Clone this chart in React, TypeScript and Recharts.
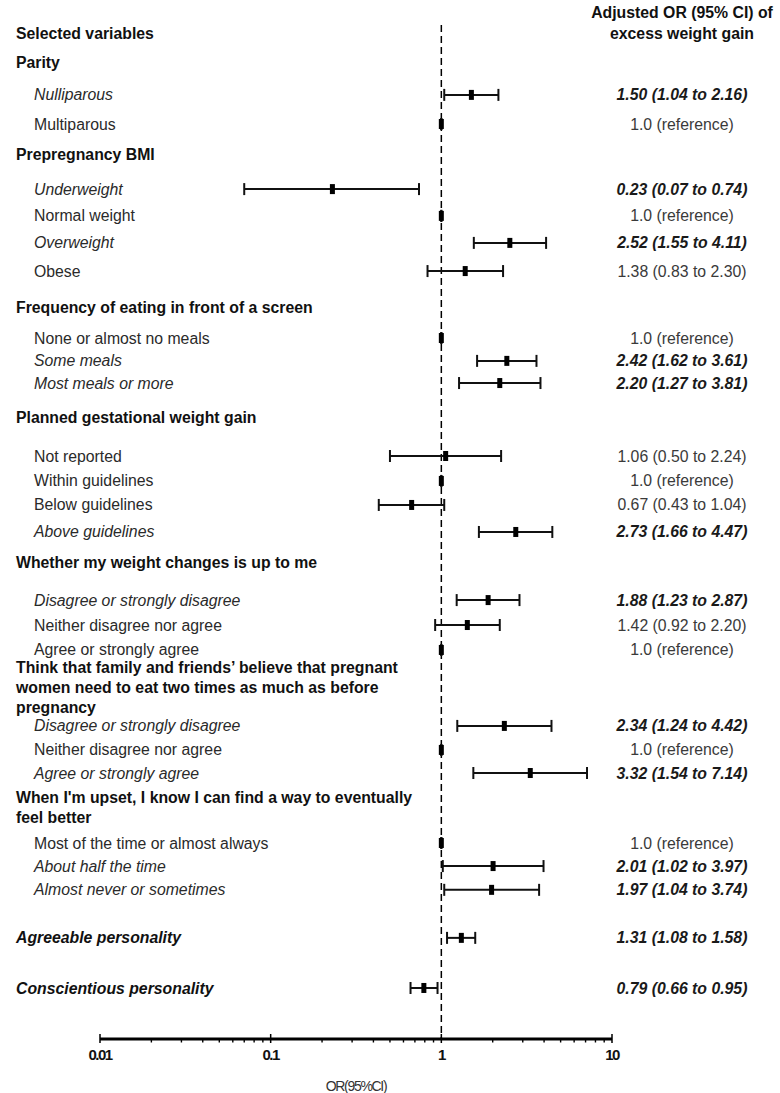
import React from "react";
import { ScatterChart, Scatter, XAxis, YAxis, ErrorBar, ReferenceLine } from "recharts";

// rows of the forest plot, top to bottom (row = position on the vertical scale)
const itemLabels = [
  "Nulliparous", "Multiparous",
  "Underweight", "Normal weight", "Overweight", "Obese",
  "None or almost no meals", "Some meals", "Most meals or more",
  "Not reported", "Within guidelines", "Below guidelines", "Above guidelines",
  "Disagree or strongly disagree", "Neither disagree nor agree", "Agree or strongly agree",
  "Disagree or strongly disagree", "Neither disagree nor agree", "Agree or strongly agree",
  "Most of the time or almost always", "About half the time", "Almost never or sometimes",
  "Agreeable personality", "Conscientious personality",
];
const oddsRatio = [1.5, 1.0, 0.23, 1.0, 2.52, 1.38, 1.0, 2.42, 2.2, 1.06, 1.0, 0.67, 2.73, 1.88, 1.42, 1.0, 2.34, 1.0, 3.32, 1.0, 2.01, 1.97, 1.31, 0.79];
const ciLow = [1.04, 1.0, 0.07, 1.0, 1.55, 0.83, 1.0, 1.62, 1.27, 0.5, 1.0, 0.43, 1.66, 1.23, 0.92, 1.0, 1.24, 1.0, 1.54, 1.0, 1.02, 1.04, 1.08, 0.66];
const ciHigh = [2.16, 1.0, 0.74, 1.0, 4.11, 2.3, 1.0, 3.61, 3.81, 2.24, 1.0, 1.04, 4.47, 2.87, 2.2, 1.0, 4.42, 1.0, 7.14, 1.0, 3.97, 3.74, 1.58, 0.95];
const isReference = [false, true, false, true, false, false, true, false, false, false, true, false, false, false, false, true, false, true, false, true, false, false, false, false];
const significant = [true, false, true, false, true, false, false, true, true, false, false, false, true, true, false, false, true, false, true, false, true, true, true, true];
const standalone = [false, false, false, false, false, false, false, false, false, false, false, false, false, false, false, false, false, false, false, false, false, false, true, true];
const itemRows = [4.11, 5.37, 8.19, 9.35, 10.52, 11.74, 14.64, 15.63, 16.59, 19.75, 20.83, 21.87, 23.04, 25.99, 27.07, 28.15, 31.44, 32.48, 33.48, 36.51, 37.51, 38.54, 40.62, 42.79];

const headerTitles = [
  ["Selected variables"],
  ["Parity"],
  ["Prepregnancy BMI"],
  ["Frequency of eating in front of a screen"],
  ["Planned gestational weight gain"],
  ["Whether my weight changes is up to me"],
  ["Think that family and friends\u2019 believe that pregnant", "women need to eat two times as much as before", "pregnancy"],
  ["When I'm upset, I know I can find a way to eventually", "feel better"],
];
const headerRows = [1.43, 2.69, 6.67, 13.3, 18.1, 24.34, 28.93, 34.52];

const columnTitle = ["Adjusted OR (95% CI) of", "excess weight gain"];
const xTickLabels = ["0.01", "0.1", "1", "10"];
const xTicks = [0.01, 0.02, 0.03, 0.04, 0.05, 0.06, 0.07, 0.08, 0.09, 0.1, 0.2, 0.3, 0.4, 0.5, 0.6, 0.7, 0.8, 0.9, 1, 2, 3, 4, 5, 6, 7, 8, 9, 10];

const FONT = "'Liberation Sans', Arial, sans-serif";
const NARROW = "'Liberation Sans Narrow', 'Liberation Sans', Arial, sans-serif";
const FS = 15.8;
const RIGHT_X = 682;

const data = itemLabels.map((label, i) => ({
  label,
  or: oddsRatio[i],
  row: itemRows[i],
  err: [oddsRatio[i] - ciLow[i], ciHigh[i] - oddsRatio[i]],
  text: isReference[i]
    ? "1.0 (reference)"
    : `${oddsRatio[i].toFixed(2)} (${ciLow[i].toFixed(2)} to ${ciHigh[i].toFixed(2)})`,
  sig: significant[i],
  top: standalone[i],
}));

// left labels and right-hand OR column, both hung on the row ticks
const RowTick = (props: any) => {
  const { y, payload } = props;
  const h = headerRows.indexOf(payload.value);
  if (h >= 0) {
    return (
      <g>
        <text x={16} y={y} fontFamily={FONT} fontSize={FS} fontWeight="bold" fill="#111">
          {headerTitles[h].map((line, k) => (
            <tspan key={k} x={16} dy={k === 0 ? "0.35em" : 20}>{line}</tspan>
          ))}
        </text>
        {h === 0 && (
          <text x={RIGHT_X} y={y - 21} textAnchor="middle" fontFamily={FONT} fontSize={FS} fontWeight="bold" fill="#111">
            {columnTitle.map((line, k) => (
              <tspan key={k} x={RIGHT_X} dy={k === 0 ? "0.35em" : 21}>{line}</tspan>
            ))}
          </text>
        )}
      </g>
    );
  }
  const d = data.find((r) => r.row === payload.value);
  if (!d) return null;
  return (
    <g>
      <text
        x={d.top ? 16 : 34}
        y={y}
        dy="0.35em"
        fontFamily={FONT}
        fontSize={FS}
        fontWeight={d.top ? "bold" : "normal"}
        fontStyle={d.sig ? "italic" : "normal"}
        fill={d.top ? "#111" : "#2a2a2a"}
      >
        {d.label}
      </text>
      <text
        x={RIGHT_X}
        y={y}
        dy="0.35em"
        textAnchor="middle"
        fontFamily={FONT}
        fontSize={FS}
        fontWeight={d.sig ? "bold" : "normal"}
        fontStyle={d.sig ? "italic" : "normal"}
        fill={d.sig ? "#1a1a1a" : "#3a3a3a"}
      >
        {d.text}
      </text>
    </g>
  );
};

const XTick = (props: any) => {
  const { x, y, payload } = props;
  const label = xTickLabels.find((t) => Number(t) === payload.value);
  return (
    <g>
      {label ? (
        <line x1={x} x2={x} y1={y - 5} y2={y + 4} stroke="#000" strokeWidth={1.5} />
      ) : (
        <line x1={x} x2={x} y1={y} y2={y + 3.5} stroke="#000" strokeWidth={1.4} />
      )}
      {label && (
        <text x={x} y={y + 21} textAnchor="middle" fontFamily={NARROW} fontSize={15} fontWeight="bold" letterSpacing={-1.5} fill="#111">
          {label}
        </text>
      )}
    </g>
  );
};

const Marker = (props: any) => {
  const { cx, cy } = props;
  return <rect x={cx - 2.5} y={cy - 5} width={5} height={10} fill="#000" />;
};

export default function App() {
  const rowTicks = [...headerRows, ...itemRows];
  return (
    <div style={{ position: "absolute", left: 0, top: 0, width: 780, height: 1093, background: "#fff" }}>
      <ScatterChart width={780} height={1093} margin={{ top: 0, right: 168, bottom: 0, left: 0 }}>
        <XAxis
          type="number"
          dataKey="or"
          scale="log"
          domain={[0.01, 10]}
          ticks={xTicks}
          interval={0}
          allowDataOverflow
          height={54}
          tickSize={0}
          tickMargin={0}
          tickLine={false}
          axisLine={{ stroke: "#000", strokeWidth: 3 }}
          tick={<XTick />}
          label={{ value: "OR(95%CI)", position: "insideBottom", offset: 2, fontFamily: NARROW, fontSize: 14, letterSpacing: -1.3, fill: "#333" }}
        />
        <YAxis
          type="number"
          dataKey="row"
          domain={[0, 45]}
          reversed
          width={100}
          ticks={rowTicks}
          interval={0}
          axisLine={false}
          tickLine={false}
          tick={<RowTick />}
        />
        <ReferenceLine
          segment={[{ x: 1, y: 1.08 }, { x: 1, y: 45 }]}
          stroke="#000"
          strokeWidth={1.5}
          strokeDasharray="7 4"
          ifOverflow="visible"
        />
        <Scatter data={data} shape={<Marker />} isAnimationActive={false}>
          <ErrorBar dataKey="err" direction="x" width={6} stroke="#111" strokeWidth={2} />
        </Scatter>
      </ScatterChart>
    </div>
  );
}
